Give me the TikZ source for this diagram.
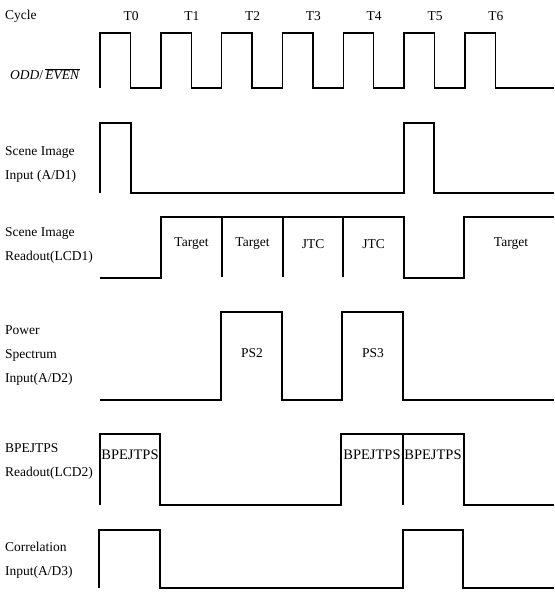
\documentclass[tikz,border=0pt]{standalone}
\usepackage{fontspec}
\setmainfont{Liberation Serif}
\usepackage{tikz}
\usetikzlibrary{positioning}

\begin{document}
\begin{tikzpicture}[
  x=1pt, y=-1pt,
  every node/.style={font=\fontsize{13.5}{24}\selectfont, inner sep=0pt},
  wave/.style={line width=1.4pt, line join=miter},
  divider/.style={line width=1.1pt},
  lbl/.style={anchor=west, align=left},
  bptext/.style={font=\fontsize{14.5}{16}\selectfont}
]
\useasboundingbox (0,0) rectangle (554,593);

% Clock
\node[lbl] (cyc) at (5,16) {Cycle};
\node[lbl] (oddeven) at (10,74) {\fontsize{13.5}{15}\selectfont\textit{ODD}/\,$\overline{\mbox{\textit{EVEN}}}$};
\foreach \k in {0,...,6}
  \node (t\k) at ({131+60.8*\k},16) {T\k};
\draw[wave] (100,88) foreach \k in {0,...,6} { -- ++(0,-55) -- ++(30.5,0) -- ++(0,55) -- ++(30.3,0) } -- (554,88);

% Scene image input
\node[lbl] (sin) at (5,164) {Scene Image\\Input (A/D1)};
\draw[wave] (100,193) -- (100,123) -- (131,123) -- (131,193) -- (404,193)
  -- (404,123) -- (434,123) -- (434,193) -- (554,193);

% Scene image readout
\node[lbl] (sout) at (5,245) {Scene Image\\Readout(LCD1)};
\draw[wave] (100,278) -- (161,278) -- (161,217) -- (404,217) -- (404,278)
  -- (464,278) -- (464,217) -- (554,217);
\draw[divider] (222,217) -- (222,277);
\draw[divider] (283,217) -- (283,277);
\draw[divider] (343,217) -- (343,277);
\node (tg1) at (191.5,244) {Target};
\node (tg2) at (252.5,244) {Target};
\node (jtc1) at (313,244) {JTC};
\node (jtc2) at (373.5,244) {JTC};
\node (tg3) at (511,244) {Target};

% Power spectrum input
\node[lbl] (psin) at (5,356) {Power\\Spectrum\\Input(A/D2)};
\draw[wave] (100,400) -- (221,400) -- (221,312) -- (282,312) -- (282,400)
  -- (342,400) -- (342,312) -- (403,312) -- (403,400) -- (554,400);
\node (ps2) at (252,353) {PS2};
\node (ps3) at (373,353) {PS3};

% BPEJTPS readout
\node[lbl] (bpout) at (5,461) {BPEJTPS\\Readout(LCD2)};
\draw[wave] (100,505) -- (100,434) -- (160,434) -- (160,505) -- (341,505)
  -- (341,434) -- (464,434) -- (464,505) -- (554,505);
\draw[divider] (403,434) -- (403,505);
\node[bptext] (bp1) at (130,455) {BPEJTPS};
\node[bptext] (bp2) at (372,455) {BPEJTPS};
\node[bptext] (bp3) at (433,455) {BPEJTPS};

% Correlation input
\node[lbl] (corin) at (5,560) {Correlation\\Input(A/D3)};
\draw[wave] (99,588) -- (99,530) -- (160,530) -- (160,588) -- (403,588)
  -- (403,530) -- (463,530) -- (463,588) -- (554,588);
\end{tikzpicture}
\end{document}
